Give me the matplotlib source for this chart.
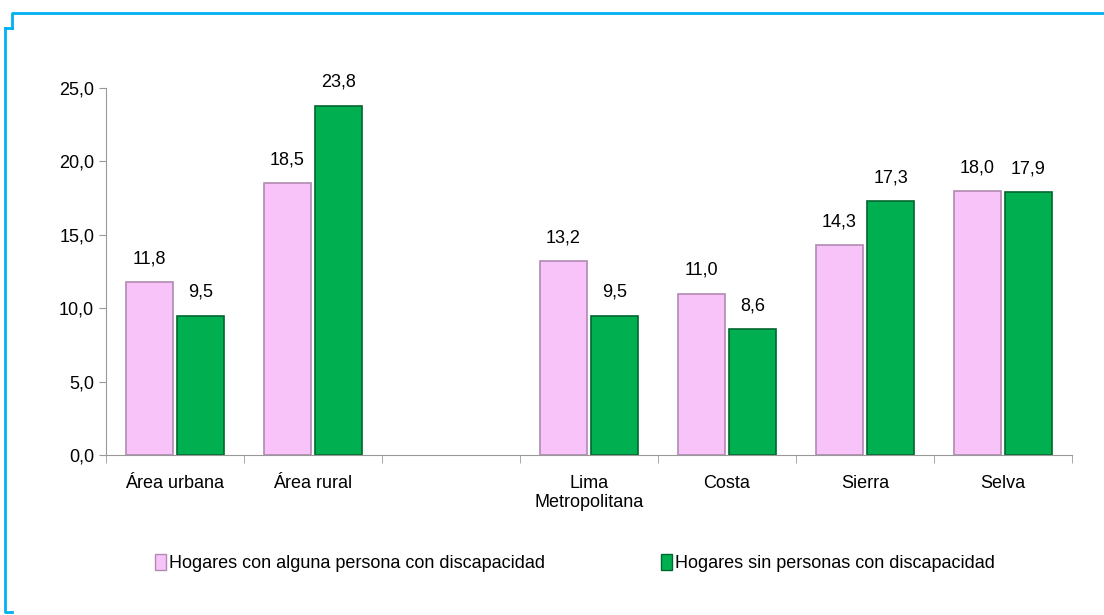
import matplotlib.pyplot as plt
import matplotlib.font_manager as fm
import numpy as np
from matplotlib.patches import Patch

# fonts - narrow Arial look if available
names = set(f.name for f in fm.fontManager.ttflist)
fam = 'Liberation Sans Narrow' if 'Liberation Sans Narrow' in names else 'Liberation Sans'
plt.rcParams['font.family'] = [fam, 'DejaVu Sans']

# data
categories = ['Área urbana', 'Área rural', '', 'Lima\nMetropolitana', 'Costa', 'Sierra', 'Selva']
con_disc = [11.8, 18.5, None, 13.2, 11.0, 14.3, 18.0]
sin_disc = [9.5, 23.8, None, 9.5, 8.6, 17.3, 17.9]
series_names = ['Hogares con alguna persona con discapacidad',
                'Hogares sin personas con discapacidad']

pink = '#F8C3F8'
pink_edge = '#B08AB0'
green = '#00B050'
green_edge = '#00662E'

fig = plt.figure(figsize=(11.04, 6.15), dpi=100)
ax = fig.add_axes([0.096, 0.26, 0.875, 0.597])

x = np.arange(len(categories))
w = 0.34
off = 0.185

for vals, dx, fc, ec in [(con_disc, -off, pink, pink_edge), (sin_disc, off, green, green_edge)]:
    xs = [xi + dx for xi, v in zip(x, vals) if v is not None]
    vs = [v for v in vals if v is not None]
    ax.bar(xs, vs, width=w, color=fc, edgecolor=ec, linewidth=1.2, zorder=2)
    for xi, v in zip(xs, vs):
        ax.text(xi, v + 1.0, f'{v:.1f}'.replace('.', ','), ha='center', va='bottom',
                fontsize=13)

ax.set_xlim(-0.5, len(categories) - 0.5)
ax.set_ylim(0, 25)
ax.set_yticks(np.arange(0, 26, 5))
ax.set_yticklabels([f'{v:.1f}'.replace('.', ',') for v in np.arange(0, 26, 5)], fontsize=13)
ax.set_xticks(x)
ax.set_xticklabels(categories, fontsize=13)
ax.tick_params(axis='x', length=0, pad=14)
ax.set_xticks(np.arange(-0.5, len(categories)), minor=True)
ax.tick_params(axis='x', which='minor', length=6, color='#999999', direction='out')
ax.tick_params(axis='y', length=5, color='#999999', direction='out')
for s in ['top', 'right']:
    ax.spines[s].set_visible(False)
for s in ['left', 'bottom']:
    ax.spines[s].set_color('#999999')

# legend
handles = [Patch(facecolor=pink, edgecolor=pink_edge), Patch(facecolor=green, edgecolor=green_edge)]
fig.legend(handles, series_names, loc='center', bbox_to_anchor=(0.521, 0.085), ncol=2,
           frameon=False, fontsize=13, handlelength=0.6, handleheight=1.0,
           handletextpad=0.2, columnspacing=6.4)

# blue frame
blue = '#00B0F0'
fig.add_artist(plt.Line2D([12/1104, 12/1104, 1.0], [1 - 28/615, 1 - 13/615, 1 - 13/615],
                          transform=fig.transFigure, color=blue, lw=2))
fig.add_artist(plt.Line2D([5/1104, 12/1104], [1 - 28/615, 1 - 28/615],
                          transform=fig.transFigure, color=blue, lw=2))
fig.add_artist(plt.Line2D([5/1104, 5/1104, 12/1104], [1 - 28/615, 3/615, 3/615],
                          transform=fig.transFigure, color=blue, lw=2))

fig.savefig('out.png', dpi=100)
